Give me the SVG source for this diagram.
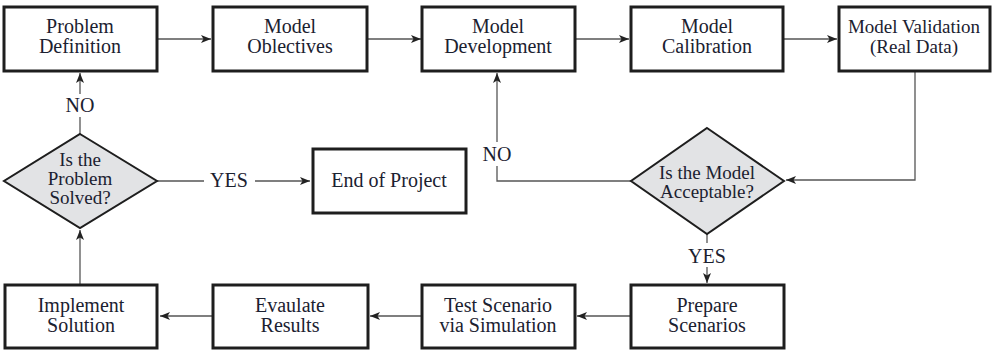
<svg xmlns="http://www.w3.org/2000/svg" width="992" height="352" viewBox="0 0 992 352">
<style>
.box{fill:#fff;stroke:#1e1e1e;stroke-width:3}
.dia{fill:#e2e3e5;stroke:#1e1e1e;stroke-width:2}
.t{font-family:"Liberation Serif","Times New Roman",serif;font-size:20px;fill:#1b2130;text-anchor:middle}
.c{fill:none;stroke:#555;stroke-width:1.3}
</style>
<defs>
<marker id="ah" viewBox="0 0 10 8" refX="10" refY="4" markerWidth="10" markerHeight="8" markerUnits="userSpaceOnUse" orient="auto">
<path d="M0,0 L10,4 L0,8 L2.5,4 Z" fill="#222"/>
</marker>
</defs>
<g id="connectors">
<line class="c" x1="158" y1="39" x2="211" y2="39" marker-end="url(#ah)"/>
<line class="c" x1="368" y1="39" x2="421" y2="39" marker-end="url(#ah)"/>
<line class="c" x1="575" y1="39" x2="629" y2="39" marker-end="url(#ah)"/>
<line class="c" x1="783" y1="39" x2="837" y2="39" marker-end="url(#ah)"/>
<polyline class="c" points="915,71 915,180 786,180" marker-end="url(#ah)"/>
<polyline class="c" points="631,181 497,181 497,166"/>
<line class="c" x1="497" y1="142" x2="497" y2="73" marker-end="url(#ah)"/>
<line class="c" x1="707" y1="234" x2="707" y2="243"/>
<line class="c" x1="707" y1="267" x2="707" y2="283" marker-end="url(#ah)"/>
<line class="c" x1="630" y1="316" x2="577" y2="316" marker-end="url(#ah)"/>
<line class="c" x1="422" y1="316" x2="370" y2="316" marker-end="url(#ah)"/>
<line class="c" x1="212" y1="316" x2="160" y2="316" marker-end="url(#ah)"/>
<line class="c" x1="80" y1="285" x2="80" y2="230" marker-end="url(#ah)"/>
<line class="c" x1="80" y1="134" x2="80" y2="117"/>
<line class="c" x1="80" y1="94" x2="80" y2="73" marker-end="url(#ah)"/>
<line class="c" x1="157" y1="181" x2="204" y2="181"/>
<line class="c" x1="255" y1="181" x2="310" y2="181" marker-end="url(#ah)"/>
<text class="t" x="80" y="112">NO</text>
<text class="t" x="497" y="161">NO</text>
<text class="t" x="229" y="187">YES</text>
<text class="t" x="707" y="263">YES</text>
</g>
<g id="problem-definition">
<rect class="box" x="4" y="7" width="153" height="64"/>
<text class="t" x="80" y="33">Problem</text>
<text class="t" x="80" y="53">Definition</text>
</g>
<g id="model-objectives">
<rect class="box" x="213" y="7" width="154" height="64"/>
<text class="t" x="290" y="33">Model</text>
<text class="t" x="290" y="53">Oblectives</text>
</g>
<g id="model-development">
<rect class="box" x="422" y="7" width="153" height="64"/>
<text class="t" x="498" y="33">Model</text>
<text class="t" x="498" y="53">Development</text>
</g>
<g id="model-calibration">
<rect class="box" x="631" y="7" width="152" height="64"/>
<text class="t" x="707" y="33">Model</text>
<text class="t" x="707" y="53">Calibration</text>
</g>
<g id="model-validation">
<rect class="box" x="839" y="7" width="151" height="64"/>
<text class="t" x="914" y="33" style="font-size:19px">Model Validation</text>
<text class="t" x="914" y="53" style="font-size:19px">(Real Data)</text>
</g>
<g id="problem-solved">
<polygon class="dia" points="80,134 157,181 80,228 4,181"/>
<text class="t" x="80" y="166" style="font-size:19px">Is the</text>
<text class="t" x="80" y="185" style="font-size:19px">Problem</text>
<text class="t" x="80" y="204" style="font-size:19px">Solved?</text>
</g>
<g id="end-of-project">
<rect class="box" x="313" y="149" width="153" height="64"/>
<text class="t" x="389" y="187">End of Project</text>
</g>
<g id="model-acceptable">
<polygon class="dia" points="707,128 784,181 707,234 631,181"/>
<text class="t" x="707" y="179" style="font-size:19px">Is the Model</text>
<text class="t" x="707" y="198" style="font-size:19px">Acceptable?</text>
</g>
<g id="implement-solution">
<rect class="box" x="5" y="285" width="152" height="63"/>
<text class="t" x="81" y="312">Implement</text>
<text class="t" x="81" y="332">Solution</text>
</g>
<g id="evaluate-results">
<rect class="box" x="213" y="285" width="155" height="63"/>
<text class="t" x="290" y="312">Evaulate</text>
<text class="t" x="290" y="332">Results</text>
</g>
<g id="test-scenario">
<rect class="box" x="422" y="285" width="153" height="63"/>
<text class="t" x="498" y="312">Test Scenario</text>
<text class="t" x="498" y="332">via Simulation</text>
</g>
<g id="prepare-scenarios">
<rect class="box" x="631" y="285" width="153" height="63"/>
<text class="t" x="707" y="312">Prepare</text>
<text class="t" x="707" y="332">Scenarios</text>
</g>
</svg>
